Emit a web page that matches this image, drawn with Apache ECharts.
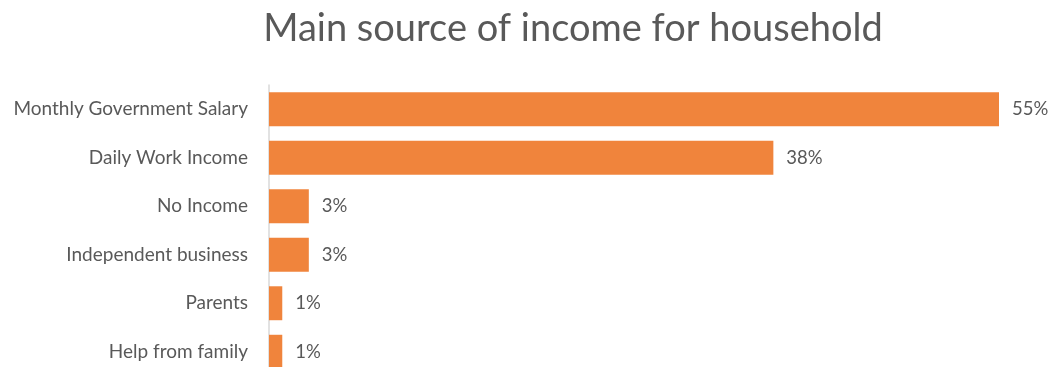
<!DOCTYPE html>
<html>
<head>
<meta charset="utf-8">
<script src="https://cdn.jsdelivr.net/npm/echarts@6/dist/echarts.min.js"></script>
<style>
  html, body { margin: 0; padding: 0; background: #fff; }
  #chart { width: 1049px; height: 367px; }
</style>
</head>
<body>
<div id="chart"></div>
<script>
// Income sources, listed top to bottom
const categories = [
  'Monthly Government Salary',
  'Daily Work Income',
  'No Income',
  'Independent business',
  'Parents',
  'Help from family'
];
// Share of households, percent
const shares = [55, 38, 3, 3, 1, 1];

const chart = echarts.init(document.getElementById('chart'));
const textColor = '#595959';
const font = 'Lato, "Open Sans", sans-serif';

chart.setOption({
  animation: false,
  title: {
    text: 'Main source of income for household',
    left: 568,
    textAlign: 'center',
    top: 5,
    textStyle: { color: textColor, fontSize: 38, fontWeight: 'normal', fontFamily: font }
  },
  // the last row runs past the bottom edge of the canvas
  grid: { left: 269, right: 50, top: 85, height: 291, containLabel: false, outerBoundsMode: 'none' },
  xAxis: {
    type: 'value',
    min: 0,
    max: 55,
    show: false
  },
  yAxis: {
    type: 'category',
    data: categories,
    inverse: true,
    axisLine: { show: true, lineStyle: { color: '#d9d9d9', width: 1.5 } },
    axisTick: { show: false },
    axisLabel: { color: textColor, fontSize: 19, fontFamily: font, margin: 21 }
  },
  series: [{
    type: 'bar',
    data: shares,
    barCategoryGap: '30%',
    itemStyle: { color: '#F0843C' },
    label: {
      show: true,
      position: 'right',
      distance: 13,
      formatter: p => p.value + '%',
      color: textColor,
      fontSize: 18.5,
      fontFamily: font
    }
  }]
});
</script>
</body>
</html>
